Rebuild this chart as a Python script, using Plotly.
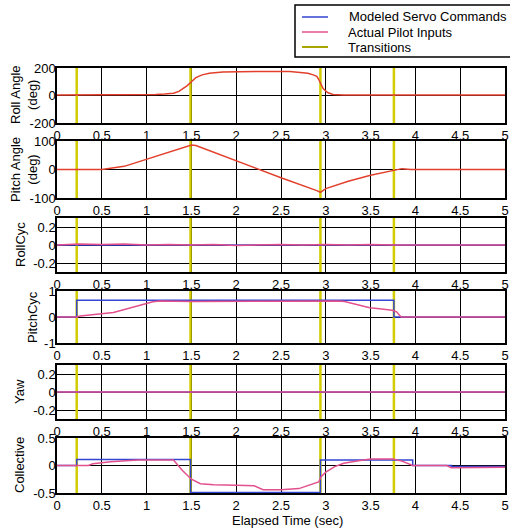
import plotly.graph_objects as go

W, H = 510, 532

# ---------------- data ----------------
x_ticks = [0, 0.5, 1, 1.5, 2, 2.5, 3, 3.5, 4, 4.5, 5]
x_tick_labels = ["0", "0.5", "1", "1.5", "2", "2.5", "3", "3.5", "4", "4.5", "5"]

transition_times = [0.22, 1.49, 2.94, 3.76]

roll_t = [0, 1.0, 1.1, 1.2, 1.3, 1.36, 1.41, 1.45, 1.5, 1.55, 1.62, 1.7, 1.85, 2.0, 2.3,
          2.6, 2.72, 2.8, 2.86, 2.9, 2.92, 2.94, 2.97, 3.02, 3.08, 3.2, 3.5, 5.0]
roll_deg = [3, 3, 7, 10, 16, 30, 52, 70, 100, 130, 150, 161, 170, 173, 175,
            174, 170, 162, 150, 140, 118, 95, 50, 22, 8, 4, 3, 3]

pitch_t = [0, 0.5, 0.75, 1.0, 1.25, 1.4, 1.5, 1.55, 2.0, 2.5, 2.9, 2.94, 3.0, 3.25,
           3.5, 3.75, 3.85, 3.95, 5.0]
pitch_deg = [0, 0, 11, 36, 60, 76, 86, 84, 30, -29, -74, -80, -67, -41,
             -20, -5, 3, 0, 0]

rollcyc_t = [0, 0.25, 0.5, 0.75, 1.0, 1.25, 1.5, 1.75, 2.0, 2.25, 2.5, 2.75, 3.0,
             3.25, 3.5, 3.75, 4.0, 4.25, 4.5, 4.75, 5.0]
rollcyc_servo = [0, 0, 0, 0, 0, 0, 0, 0, 0, 0, 0, 0, 0, 0, 0, 0, 0, 0, 0, 0, 0]
rollcyc_pilot = [0, 0.01, 0.005, 0.01, 0.0, 0.005, 0.0, 0.005, -0.005, 0.0, 0.005, 0.0,
                 0.005, 0.0, 0.005, 0.0, 0.0, 0.0, 0.0, 0.0, 0.0]

pitchcyc_servo_t = [0, 0.22, 0.22, 3.76, 3.76, 5.0]
pitchcyc_servo = [0, 0, 0.64, 0.64, 0, 0]
pitchcyc_pilot_t = [0, 0.22, 0.26, 0.63, 1.07, 1.15, 1.5, 2.0, 2.5, 2.9, 3.0, 3.15, 3.21,
                    3.35, 3.49, 3.6, 3.74, 3.79, 3.82, 3.84, 5.0]
pitchcyc_pilot = [0, 0, 0.04, 0.17, 0.59, 0.62, 0.6, 0.61, 0.6, 0.61, 0.62, 0.62, 0.6,
                  0.48, 0.36, 0.32, 0.26, 0.2, 0.08, 0, 0]

yaw_t = [0, 5.0]
yaw_servo = [0, 0]
yaw_pilot = [0, 0]

coll_servo_t = [0, 0.22, 0.22, 1.49, 1.49, 2.94, 2.94, 3.97, 3.97, 4.4, 4.4, 5.0]
coll_servo = [0, 0, 0.11, 0.11, -0.49, -0.49, 0.1, 0.1, 0, 0, -0.02, -0.02]
coll_pilot_t = [0, 0.35, 0.4, 0.6, 0.9, 1.1, 1.3, 1.4, 1.5, 1.6, 1.75, 2.0, 2.2, 2.3, 2.5,
                2.7, 2.8, 2.92, 2.95, 3.0, 3.1, 3.2, 3.38, 3.5, 3.75, 3.85, 3.97, 4.35,
                4.4, 4.6, 4.8, 5.0]
coll_pilot = [0, 0, 0.03, 0.07, 0.1, 0.1, 0.1, -0.09, -0.25, -0.33, -0.35, -0.36, -0.37,
              -0.44, -0.44, -0.42, -0.37, -0.3, -0.2, -0.12, -0.02, 0.04, 0.09, 0.12,
              0.12, 0.08, 0.0, 0.0, -0.04, -0.04, -0.03, -0.03]

legend_names = ["Modeled Servo Commands", "Actual Pilot Inputs", "Transitions"]

# ---------------- styling ----------------
BLUE = "#3246d2"
PINK = "#e2508e"
RED = "#e2402c"
YELLOW = "#d2cc00"
OLIVE = "#aaa400"
FONT = "Liberation Sans, Arial, sans-serif"

panels = [(68, 123), (141, 198), (218, 272), (291, 343), (365, 419), (438, 493)]
x_left, x_right = 57, 505

panel_specs = [
    dict(rng=[-200, 200], tv=[-200, 0, 200], tt=["-200", "0", "200"]),
    dict(rng=[-100, 100], tv=[-100, 0, 100], tt=["-100", "0", "100"]),
    dict(rng=[-0.3, 0.3], tv=[-0.2, 0, 0.2], tt=["-0.2", "0", "0.2"]),
    dict(rng=[-1, 1], tv=[-1, 0, 1], tt=["-1", "0", "1"]),
    dict(rng=[-0.3, 0.3], tv=[-0.2, 0, 0.2], tt=["-0.2", "0", "0.2"]),
    dict(rng=[-0.5, 0.5], tv=[-0.5, 0, 0.5], tt=["-0.5", "0", "0.5"]),
]

fig = go.Figure()

def ax(i, kind):
    return kind if i == 0 else f"{kind}{i + 1}"

series = [
    [(roll_t, roll_deg, RED)],
    [(pitch_t, pitch_deg, RED)],
    [(rollcyc_t, rollcyc_servo, BLUE), (rollcyc_t, rollcyc_pilot, PINK)],
    [(pitchcyc_servo_t, pitchcyc_servo, BLUE), (pitchcyc_pilot_t, pitchcyc_pilot, PINK)],
    [(yaw_t, yaw_servo, BLUE), (yaw_t, yaw_pilot, PINK)],
    [(coll_servo_t, coll_servo, BLUE), (coll_pilot_t, coll_pilot, PINK)],
]

for i, spec in enumerate(panel_specs):
    xa, ya = ax(i, "x"), ax(i, "y")
    lo, hi = spec["rng"]
    tx, ty = [], []
    for t in transition_times:
        tx += [t, t, None]
        ty += [lo, hi, None]
    fig.add_trace(go.Scatter(x=tx, y=ty, mode="lines", xaxis=xa, yaxis=ya, showlegend=False,
                             line=dict(color=YELLOW, width=2.5), hoverinfo="skip"))
    for (xs, ys, col) in series[i]:
        fig.add_trace(go.Scatter(x=xs, y=ys, mode="lines", xaxis=xa, yaxis=ya,
                                 showlegend=False, line=dict(color=col, width=1.5)))

layout = dict(
    width=W, height=H,
    margin=dict(l=0, r=0, t=0, b=0),
    paper_bgcolor="white", plot_bgcolor="white",
    font=dict(family=FONT, size=13, color="black"),
    showlegend=False,
)

for i, spec in enumerate(panel_specs):
    top, bot = panels[i]
    xkey = "xaxis" if i == 0 else f"xaxis{i + 1}"
    ykey = "yaxis" if i == 0 else f"yaxis{i + 1}"
    layout[xkey] = dict(
        domain=[x_left / W, x_right / W], anchor=ax(i, "y"),
        range=[0, 5], tickvals=x_ticks, ticktext=x_tick_labels,
        showgrid=True, gridcolor="black", gridwidth=1.2,
        showline=True, linecolor="black", linewidth=1.5, mirror=True,
        zeroline=False, ticks="", tickfont=dict(size=13), automargin=False,
    )
    layout[ykey] = dict(
        domain=[1 - bot / H, 1 - top / H], anchor=ax(i, "x"),
        range=spec["rng"], tickvals=spec["tv"], ticktext=spec["tt"],
        showgrid=True, gridcolor="black", gridwidth=1.2,
        showline=True, linecolor="black", linewidth=1.5, mirror=True,
        zeroline=False, ticks="", tickfont=dict(size=13), automargin=False,
        ticklabelstandoff=-3,
    )

fig.update_layout(**layout)

# legend box (drawn manually to match the compact original)
fig.add_shape(type="rect", xref="paper", yref="paper",
              x0=295 / W, x1=516 / W, y0=1 - 57 / H, y1=1 - 5 / H,
              line=dict(color="black", width=1.5), fillcolor="white", layer="above")
legend_cols = [BLUE, PINK, OLIVE]
legend_rows = [17, 32, 47]
for name, col, ry in zip(legend_names, legend_cols, legend_rows):
    fig.add_shape(type="line", xref="paper", yref="paper",
                  x0=302 / W, x1=328 / W, y0=1 - ry / H, y1=1 - ry / H,
                  line=dict(color=col, width=2 if col == OLIVE else 1.5), layer="above")
    fig.add_annotation(text=name, x=(346 if col != BLUE else 347) / W, y=1 - ry / H,
                       xref="paper", yref="paper", showarrow=False,
                       xanchor="left", yanchor="middle", font=dict(size=13))

# y-axis titles and x title
ytitles = [("Roll Angle<br>(deg)", 24, 95), ("Pitch Angle<br>(deg)", 24, 170),
           ("RollCyc", 20, 245), ("PitchCyc", 32, 317), ("Yaw", 19, 392),
           ("Collective", 19, 465)]
for text, px, py in ytitles:
    fig.add_annotation(text=text, x=px / W, y=1 - py / H, xref="paper", yref="paper",
                       showarrow=False, textangle=-90, font=dict(size=13),
                       xanchor="center", yanchor="middle")
fig.add_annotation(text="Elapsed Time (sec)", x=287 / W, y=1 - 520 / H, xref="paper",
                   yref="paper", showarrow=False, font=dict(size=13),
                   xanchor="center", yanchor="middle")

fig.write_html("out.html", config={"displayModeBar": False},
               post_script="document.body.style.margin='0';document.body.style.overflow='hidden';")
